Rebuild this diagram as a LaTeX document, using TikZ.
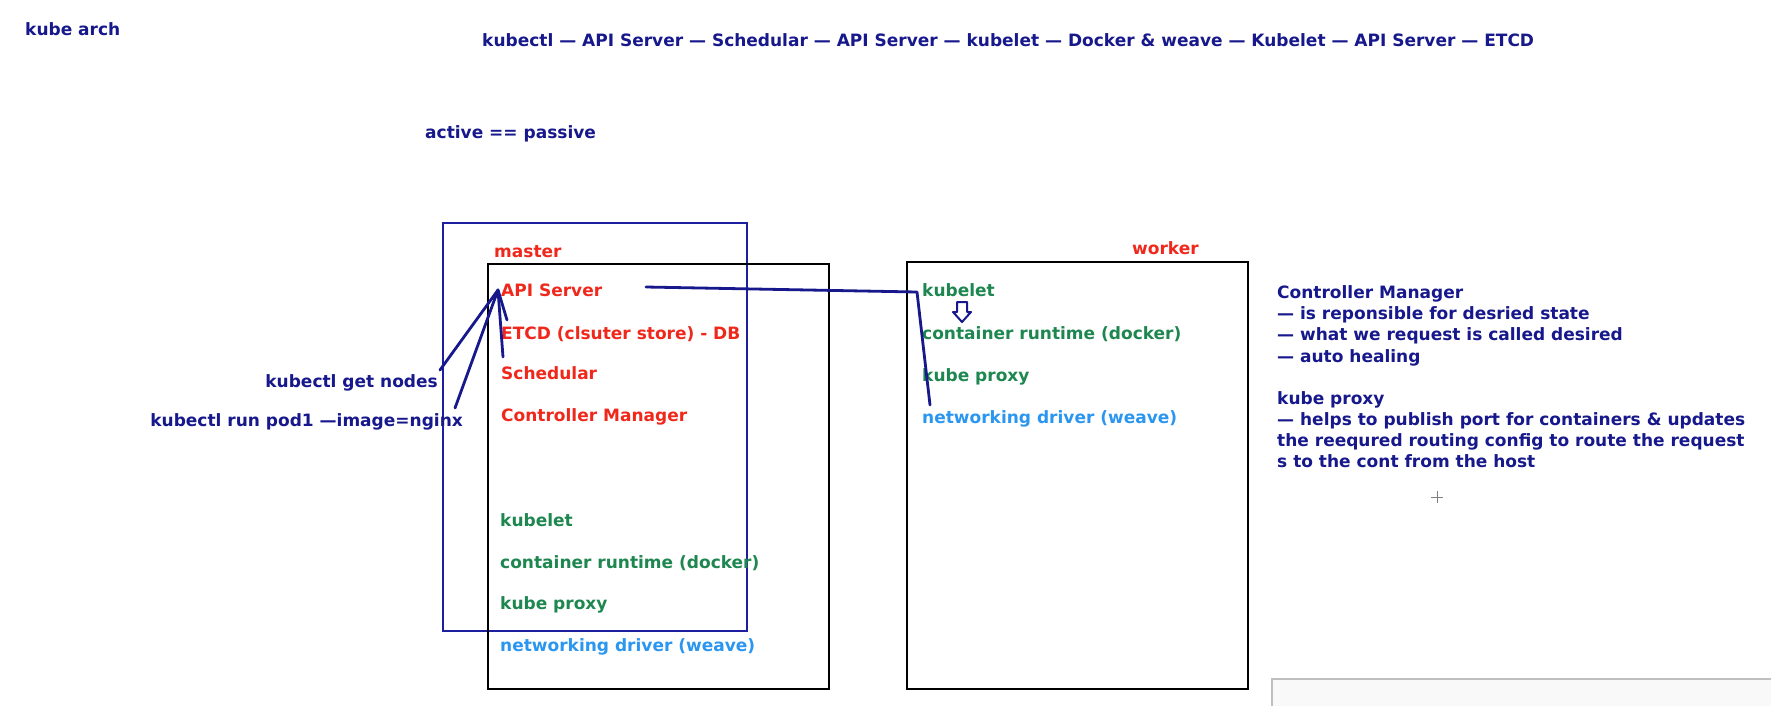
\documentclass[tikz,border=0pt]{standalone}
\usepackage{fontspec}
\setmainfont{DejaVu Sans}
\definecolor{navy}{RGB}{22,24,140}
\definecolor{kred}{RGB}{240,40,28}
\definecolor{kgreen}{RGB}{30,135,80}
\definecolor{kblue}{RGB}{42,150,240}
\definecolor{boxblue}{RGB}{30,30,160}
\tikzset{
 lbl/.style={anchor=base west, inner sep=0pt, font=\fontsize{17}{20}\selectfont\bfseries},
 nv/.style={lbl, text=navy},
 rd/.style={lbl, text=kred},
 gr/.style={lbl, text=kgreen},
 lb/.style={lbl, text=kblue},
 pen/.style={navy, line width=2.8pt, line cap=round, line join=round},
 frame/.style={line width=2.2pt},
}
\begin{document}
\begin{tikzpicture}[x=1pt,y=-1pt]
\useasboundingbox (0,0) rectangle (1771,705);
\fill[white] (0,0) rectangle (1771,705);
% headings
\node[nv] (title) at (25,35) {kube arch};
\node[nv] (flow) at (482,46) {kubectl — API Server — Schedular — API Server — kubelet — Docker \& weave — Kubelet — API Server — ETCD};
\node[nv] (ap) at (425,138) {active == passive};
% boxes
\draw[frame, boxblue] (443,223) rectangle (747,631);
\draw[frame, black] (488,264) rectangle (829,689);
\draw[frame, black] (907,262) rectangle (1248,689);
\node[rd] (master) at (494,257) {master};
\node[rd] (worker) at (1132,254) {worker};
% master items
\node[rd] (api) at (501,296) {API Server};
\node[rd] (etcd) at (501,339) {ETCD (clsuter store) - DB};
\node[rd] (sched) at (501,379) {Schedular};
\node[rd] (cm) at (501,421) {Controller Manager};
\node[gr] (mkubelet) at (500,526) {kubelet};
\node[gr] (mcr) at (500,568) {container runtime (docker)};
\node[gr] (mkp) at (500,609) {kube proxy};
\node[lb] (mnd) at (500,651) {networking driver (weave)};
% worker items
\node[gr] (wkubelet) at (922,296) {kubelet};
\node[gr] (wcr) at (922,339) {container runtime (docker)};
\node[gr] (wkp) at (922,381) {kube proxy};
\node[lb] (wnd) at (922,423) {networking driver (weave)};
% commands
\node[nv, anchor=base east] (getn) at (438,387) {kubectl get nodes};
\node[nv, anchor=base east] (runp) at (463,426) {kubectl run pod1 —image=nginx};
% right notes
\node[nv] (n1) at (1277,298) {Controller Manager};
\node[nv] (n2) at (1277,319) {— is reponsible for desried state};
\node[nv] (n3) at (1277,340) {— what we request is called desired};
\node[nv] (n4) at (1277,362) {— auto healing};
\node[nv] (n5) at (1277,404) {kube proxy};
\node[nv] (n6) at (1277,425) {— helps to publish port for containers \& updates};
\node[nv] (n7) at (1277,446) {the reequred routing config to route the request};
\node[nv] (n8) at (1277,467) {s to the cont from the host};
% hand-drawn strokes
\coordinate (apiPt) at (498,290);
\coordinate (getEnd) at (440,370);
\coordinate (runEnd) at (455,408);
\coordinate (schedTop) at (503,357);
\coordinate (etcdTop) at (507,320);
\coordinate (apiEnd) at (646,287);
\coordinate (wCorner) at (917,292);
\coordinate (wndTop) at (930,405);
\draw[pen] (getEnd) -- (apiPt);
\draw[pen] (runEnd) -- (apiPt);
\draw[pen] (schedTop) -- (apiPt);
\draw[pen] (etcdTop) -- (apiPt);
\draw[pen] (apiEnd) -- (wCorner) -- (wndTop);
% hollow down arrow
\draw[navy, line width=2pt, line join=round] (957,302) -- (967,302) -- (967,312) -- (971,312) -- (962,322) -- (953,312) -- (957,312) -- cycle;
% cursor cross
\draw[gray, line width=1pt] (1431,497) -- (1443,497) (1437,491) -- (1437,503);
% bottom-right panel
\draw[fill=black!2.5, draw=black!25, line width=1.5pt] (1272,679) rectangle (1780,715);
\end{tikzpicture}
\end{document}
